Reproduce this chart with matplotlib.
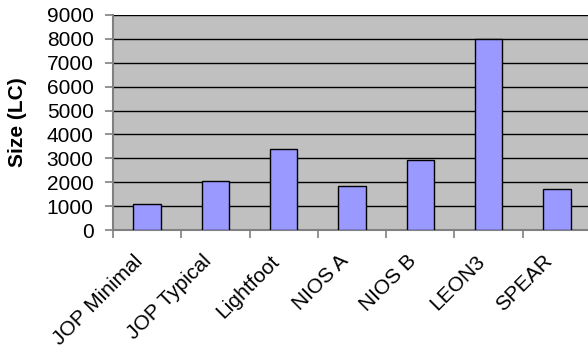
import matplotlib.pyplot as plt
import numpy as np

plt.rcParams["font.family"] = ["Liberation Sans", "DejaVu Sans"]

categories = ["JOP Minimal", "JOP Typical", "Lightfoot", "NIOS A", "NIOS B", "LEON3", "SPEAR"]
sizes_lc = [1080, 2050, 3400, 1830, 2920, 8000, 1700]
y_ticks = [0, 1000, 2000, 3000, 4000, 5000, 6000, 7000, 8000, 9000]

fig = plt.figure(figsize=(5.88, 3.54), dpi=100)
ax = fig.add_axes([113 / 588, 1 - 230 / 354, 478 / 588, 215 / 354])
ax.set_facecolor("#C0C0C0")

x = np.arange(len(categories))
ax.bar(x, sizes_lc, width=0.4, color="#9999FF", edgecolor="black", linewidth=1, zorder=3)

ax.set_xlim(-0.5, len(categories) - 0.5)
ax.set_ylim(0, 9000)
ax.set_yticks(y_ticks)
ax.set_yticklabels([str(v) for v in y_ticks], fontsize=15)
ax.yaxis.grid(True, color="black", linewidth=1, zorder=1)
ax.set_axisbelow(True)

# ticks between categories, rotated labels under the centres
ax.set_xticks(np.arange(len(categories) + 1) - 0.5)
ax.set_xticklabels([])
for xi, name in zip(x, categories):
    ax.annotate(name, xy=(xi, 0), xycoords=("data", "axes fraction"),
                xytext=(-7, -28), textcoords="offset pixels",
                rotation=45, ha="right", va="center", rotation_mode="anchor",
                fontsize=15, annotation_clip=False)
ax.tick_params(axis="x", which="major", length=6, color="#808080", width=1.2)
ax.tick_params(axis="y", length=6, color="#808080", width=1.2, pad=8)

for side in ["top", "right"]:
    ax.spines[side].set_visible(False)
for side in ["left", "bottom"]:
    ax.spines[side].set_color("#808080")
    ax.spines[side].set_linewidth(1.5)

ax.set_ylabel("Size (LC)", fontsize=15, fontweight="bold")
ax.yaxis.set_label_coords(-0.18, 0.5)

fig.savefig("out.png", dpi=100)
